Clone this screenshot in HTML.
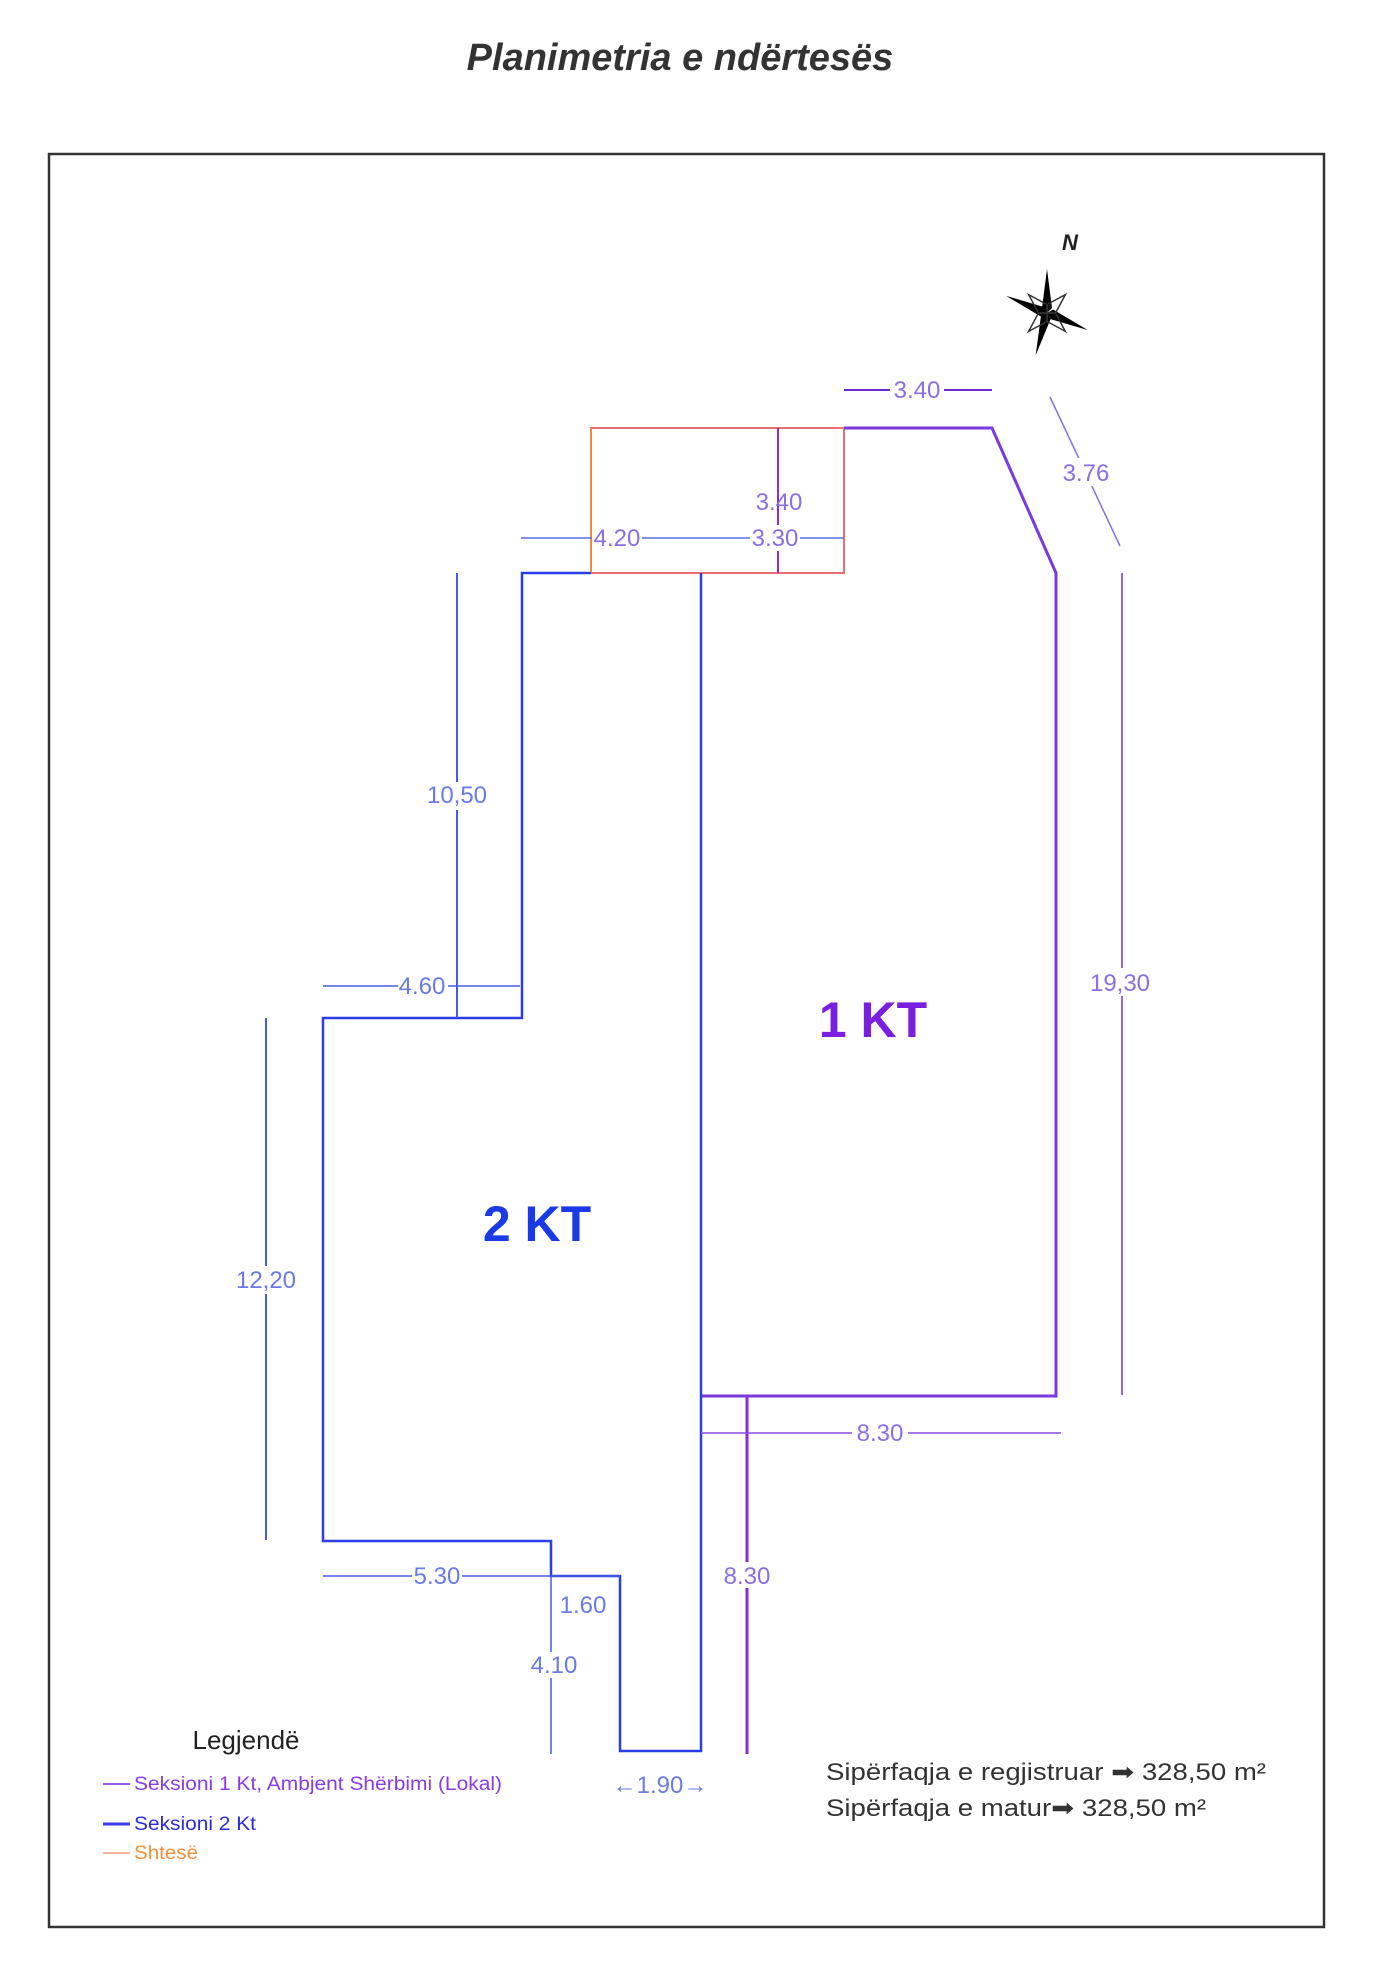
<!DOCTYPE html>
<html><head><meta charset="utf-8"><style>
html,body{margin:0;padding:0;background:#fff;}
svg{display:block;}
</style></head><body>
<svg width="1400" height="1964" viewBox="0 0 1400 1964" xmlns="http://www.w3.org/2000/svg">
<text x="680" y="70" text-anchor="middle" font-family="Liberation Sans, sans-serif" font-size="38" font-weight="bold" font-style="italic" fill="#333">Planimetria e ndërtesës</text>
<rect x="49" y="154" width="1275" height="1773" fill="none" stroke="#333" stroke-width="2.5"/>

<!-- compass -->
<g transform="translate(1047,313)">
<polygon points="0,-44 5,-5 0,0 -5,-5" fill="#000"/>
<polygon points="0,44 5,5 0,0 -5,5" fill="#000" transform="rotate(15)"/>
<polygon points="-44,-6 -5,-5 0,0 -5,5" fill="#000" transform="rotate(15)"/>
<polygon points="44,6 5,-5 0,0 5,5" fill="#000" transform="rotate(15)"/>
<polygon points="0,-26 6,-6 0,0 -6,-6" fill="none" stroke="#333" stroke-width="1.5" transform="rotate(45)"/>
<polygon points="0,-26 6,-6 0,0 -6,-6" fill="none" stroke="#333" stroke-width="1.5" transform="rotate(135)"/>
<polygon points="0,-26 6,-6 0,0 -6,-6" fill="none" stroke="#333" stroke-width="1.5" transform="rotate(225)"/>
<polygon points="0,-26 6,-6 0,0 -6,-6" fill="none" stroke="#333" stroke-width="1.5" transform="rotate(315)"/>
</g>
<text x="1070" y="250" text-anchor="middle" font-family="Liberation Sans, sans-serif" font-size="22" font-weight="bold" font-style="italic" fill="#222">N</text>

<!-- shtese rect -->
<polyline points="591,573 591,428 844,428 844,573 591,573" fill="none" stroke="#e87070" stroke-width="2"/>
<line x1="591" y1="428" x2="591" y2="573" stroke="#f08a40" stroke-width="2"/>
<line x1="778" y1="428" x2="778" y2="573" stroke="#8a2be2" stroke-width="2"/>

<!-- 1 KT -->
<polyline points="844,428 992,428 1056,573 1056,1396 700,1396" fill="none" stroke="#7a3ae0" stroke-width="3"/>
<!-- 2 KT -->
<polyline points="591,573 522,573 522,1018 323,1018 323,1541 551,1541 551,1576 620,1576 620,1751 701,1751 701,573" fill="none" stroke="#2a3ee8" stroke-width="2.5"/>
<line x1="747" y1="1396" x2="747" y2="1754" stroke="#8a2be2" stroke-width="3"/>

<g font-family="Liberation Sans, sans-serif" font-size="24" fill="#8a6ee6" text-anchor="middle">
<!-- 3.40 top -->
<line x1="844" y1="390" x2="992" y2="390" stroke="#6a2ad0" stroke-width="2"/>
<rect x="890" y="376" width="54" height="28" fill="#fff"/>
<text x="917" y="398">3.40</text>
<!-- 3.76 -->
<line x1="1050" y1="397" x2="1120" y2="546" stroke="#8a6ee6" stroke-width="1.5"/>
<rect x="1060" y="458" width="54" height="28" fill="#fff"/>
<text x="1086" y="481">3.76</text>
<!-- 19.30 -->
<line x1="1122" y1="573" x2="1122" y2="1395" stroke="#9a66e6" stroke-width="2"/>
<rect x="1092" y="968" width="60" height="28" fill="#fff"/>
<text x="1120" y="991">19,30</text>
<!-- 4.20 / 3.30 -->
<line x1="521" y1="538" x2="844" y2="538" stroke="#5a6ee6" stroke-width="1.5"/>
<rect x="592" y="525" width="50" height="26" fill="#fff"/>
<text x="617" y="546">4.20</text>
<rect x="750" y="525" width="50" height="26" fill="#fff"/>
<text x="775" y="546">3.30</text>
<text x="779" y="510">3.40</text>
<!-- 10.50 -->
<line x1="457" y1="573" x2="457" y2="1018" stroke="#4a5ae8" stroke-width="2"/>
<rect x="428" y="782" width="60" height="28" fill="#fff"/>
<text x="457" y="803" fill="#6a7ae8">10,50</text>
<!-- 4.60 -->
<line x1="323" y1="986" x2="520" y2="986" stroke="#4a5ae8" stroke-width="1.5"/>
<rect x="398" y="973" width="50" height="26" fill="#fff"/>
<text x="422" y="994" fill="#6a7ae8">4.60</text>
<!-- 12.20 -->
<line x1="266" y1="1018" x2="266" y2="1540" stroke="#4a5ae8" stroke-width="2"/>
<rect x="236" y="1266" width="60" height="28" fill="#fff"/>
<text x="266" y="1288" fill="#6a7ae8">12,20</text>
<!-- 5.30 -->
<line x1="323" y1="1576" x2="620" y2="1576" stroke="#4a5ae8" stroke-width="1.5"/>
<rect x="412" y="1563" width="50" height="26" fill="#fff"/>
<text x="437" y="1584" fill="#6a7ae8">5.30</text>
<!-- 1.60 -->
<text x="583" y="1613" fill="#6a7ae8">1.60</text>
<!-- 4.10 -->
<line x1="551" y1="1576" x2="551" y2="1754" stroke="#4a5ae8" stroke-width="1.5"/>
<rect x="530" y="1652" width="48" height="26" fill="#fff"/>
<text x="554" y="1673" fill="#6a7ae8">4.10</text>
<!-- 1.90 -->
<text x="660" y="1793" fill="#6a7ae8">←1.90→</text>
<!-- 8.30 horiz -->
<line x1="701" y1="1433" x2="1061" y2="1433" stroke="#8a4ae6" stroke-width="1.5"/>
<rect x="852" y="1420" width="56" height="26" fill="#fff"/>
<text x="880" y="1441">8.30</text>
<!-- 8.30 vert -->
<rect x="722" y="1562" width="50" height="26" fill="#fff"/>
<text x="747" y="1584">8.30</text>
</g>

<text x="873" y="1037" text-anchor="middle" font-family="Liberation Sans, sans-serif" font-size="50" font-weight="bold" fill="#7a1ee0">1 KT</text>
<text x="537" y="1241" text-anchor="middle" font-family="Liberation Sans, sans-serif" font-size="50" font-weight="bold" fill="#1a3ae8">2 KT</text>

<!-- legend -->
<text x="246" y="1749" text-anchor="middle" font-family="Liberation Sans, sans-serif" font-size="26" fill="#222">Legjendë</text>
<g font-family="Liberation Sans, sans-serif" font-size="19">
<line x1="103" y1="1784" x2="130" y2="1784" stroke="#9a5ae8" stroke-width="2"/>
<text x="134" y="1790" fill="#8a3ae6" textLength="368" lengthAdjust="spacingAndGlyphs">Seksioni 1 Kt, Ambjent Shërbimi (Lokal)</text>
<line x1="103" y1="1824" x2="130" y2="1824" stroke="#3a3ee8" stroke-width="3"/>
<text x="134" y="1830" fill="#2a2ae0" textLength="122" lengthAdjust="spacingAndGlyphs">Seksioni 2 Kt</text>
<line x1="103" y1="1853" x2="130" y2="1853" stroke="#f0a070" stroke-width="1.5"/>
<text x="134" y="1859" fill="#f0903a" textLength="64" lengthAdjust="spacingAndGlyphs">Shtesë</text>
</g>
<g font-family="Liberation Sans, sans-serif" font-size="24" fill="#333">
<text x="826" y="1780" textLength="440" lengthAdjust="spacingAndGlyphs">Sipërfaqja e regjistruar ➡ 328,50 m²</text>
<text x="826" y="1816" textLength="380" lengthAdjust="spacingAndGlyphs">Sipërfaqja e matur➡ 328,50 m²</text>
</g>
</svg>
</body></html>
